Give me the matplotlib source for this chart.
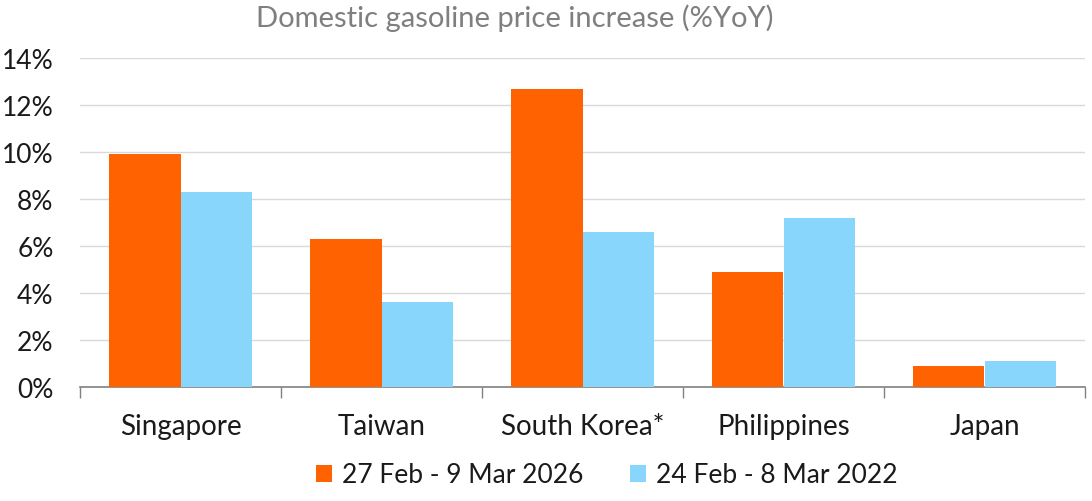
import matplotlib
matplotlib.use("Agg")
import matplotlib.pyplot as plt
import numpy as np
from matplotlib.ticker import FixedLocator, PercentFormatter

countries = ["Singapore", "Taiwan", "South Korea*", "Philippines", "Japan"]
rise_2026 = [9.9, 6.3, 12.7, 4.9, 0.9]
rise_2022 = [8.3, 3.6, 6.6, 7.2, 1.1]
series_labels = ["27 Feb - 9 Mar 2026", "24 Feb - 8 Mar 2022"]
title = "Domestic gasoline price increase (%YoY)"

ORANGE = "#FF6200"
BLUE = "#89D6FD"

plt.rcParams['font.family'] = ['Lato', 'DejaVu Sans']

fig = plt.figure(figsize=(10.92, 5.02), dpi=100)
ax = fig.add_axes([80 / 1092, 1 - 388 / 502, 1005 / 1092, 329 / 502])

x = np.arange(len(countries))
w = 0.355
b1 = ax.bar(x - w / 2, rise_2026, w, color=ORANGE, label=series_labels[0], zorder=3)
b2 = ax.bar(x + w / 2, rise_2022, w, color=BLUE, label=series_labels[1], zorder=3)

ax.set_xlim(-0.5, len(countries) - 0.5)
ax.set_ylim(0, 14)
ax.set_yticks(np.arange(0, 15, 2))
ax.yaxis.set_major_formatter(PercentFormatter(decimals=0))
ax.grid(axis='y', color='#d9d9d9', linewidth=1, zorder=0)

for s in ['top', 'right', 'left']:
    ax.spines[s].set_visible(False)
ax.spines['bottom'].set_color('#808080')
ax.spines['bottom'].set_linewidth(1.2)

ax.set_xticks(x)
ax.set_xticklabels(countries)
ax.xaxis.set_minor_locator(FixedLocator(np.arange(-0.5, len(countries), 1)))
ax.tick_params(axis='x', which='major', length=0, pad=19, labelsize=20, labelcolor='#1a1a1a')
ax.tick_params(axis='x', which='minor', length=8, color='#808080', width=1)
ax.tick_params(axis='y', length=0, pad=19, labelsize=19, labelcolor='#1a1a1a')

fig.text(515 / 1092, 1 - 18 / 502, title, ha='center', va='center',
         fontsize=21, color='#7f7f7f')

fig.legend(handles=[b1, b2], loc='center', bbox_to_anchor=(607 / 1092, 1 - 476 / 502),
           ncol=2, frameon=False, fontsize=19, handlelength=0.6, handleheight=0.6,
           handletextpad=0.4, columnspacing=1.75, labelcolor='#1a1a1a')

fig.savefig("out.png", dpi=100)
